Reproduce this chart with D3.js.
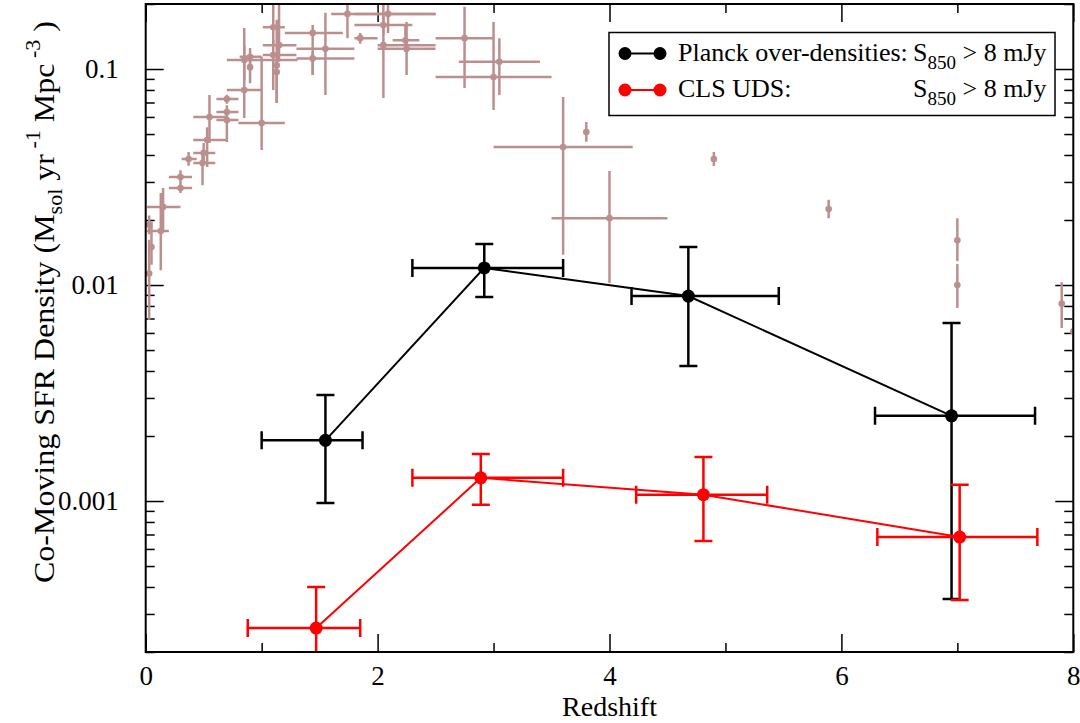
<!DOCTYPE html>
<html>
<head>
<meta charset="utf-8">
<script src="https://cdn.jsdelivr.net/npm/d3@7"></script>
<style>
  body { margin: 0; background: #fff; }
  svg, svg text { font-family: "Liberation Serif", "Times New Roman", serif; }
  .axis path { display: none; }
  .axis line { stroke: #000; stroke-width: 1.5; }
  .axis text { font-size: 27px; fill: #000; font-family: "Liberation Serif", serif; }
</style>
</head>
<body>
<svg id="chart"></svg>
<script>
"use strict";
// rows: [z, zLo, zHi, sfrd, sfrdLo, sfrdHi]
const planck = [
  [1.55, 1.00, 1.87, 0.00191, 0.00098, 0.0031],
  [2.92, 2.30, 3.60, 0.0120, 0.0088, 0.0155],
  [4.68, 4.19, 5.46, 0.00889, 0.00422, 0.0150],
  [6.95, 6.29, 7.67, 0.00248, 0.000352, 0.00667]
];
const clsUds = [
  [1.47, 0.88, 1.85, 0.000258, 0.00012, 0.00040],
  [2.89, 2.30, 3.60, 0.00128, 0.00096, 0.00165],
  [4.81, 4.23, 5.36, 0.00107, 0.000653, 0.0016],
  [7.02, 6.31, 7.69, 0.000681, 0.000348, 0.00119]
];
// literature compilation (background points)
const compilation = [
  [0.03, 0.03, 0.03, 0.0190, 0.0172, 0.0210],
  [0.05, 0.05, 0.05, 0.0150, 0.0124, 0.0196],
  [0.03, 0.03, 0.03, 0.0113, 0.0069, 0.0162],
  [0.13, 0.01, 0.20, 0.0178, 0.0117, 0.0267],
  [0.15, 0.01, 0.30, 0.0230, 0.0180, 0.0281],
  [0.30, 0.20, 0.40, 0.0281, 0.0267, 0.0297],
  [0.30, 0.20, 0.40, 0.0316, 0.0297, 0.0340],
  [0.37, 0.31, 0.44, 0.0383, 0.0357, 0.0413],
  [0.49, 0.41, 0.60, 0.0367, 0.0290, 0.0421],
  [0.50, 0.41, 0.60, 0.0408, 0.0360, 0.0454],
  [0.53, 0.41, 0.70, 0.0469, 0.0352, 0.0538],
  [0.55, 0.41, 0.70, 0.0600, 0.0454, 0.0758],
  [0.70, 0.61, 0.80, 0.0581, 0.0459, 0.0646],
  [0.70, 0.61, 0.80, 0.0632, 0.0590, 0.0680],
  [0.70, 0.61, 0.80, 0.0726, 0.0690, 0.0760],
  [0.85, 0.70, 1.00, 0.0800, 0.0593, 0.155],
  [0.85, 0.70, 1.31, 0.110, 0.089, 0.129],
  [0.90, 0.81, 1.00, 0.114, 0.098, 0.125],
  [0.90, 0.90, 0.90, 0.102, 0.086, 0.110],
  [1.00, 0.80, 1.20, 0.0562, 0.0422, 0.114],
  [1.10, 1.01, 1.20, 0.156, 0.129, 0.198],
  [1.10, 1.01, 1.30, 0.116, 0.080, 0.136],
  [1.13, 1.13, 1.13, 0.104, 0.0697, 0.169],
  [1.15, 1.01, 1.30, 0.129, 0.108, 0.20],
  [1.13, 1.13, 1.13, 0.0969, 0.0697, 0.110],
  [1.44, 1.20, 1.70, 0.147, 0.0938, 0.160],
  [1.44, 1.30, 1.80, 0.112, 0.0938, 0.120],
  [1.55, 1.30, 1.80, 0.124, 0.0758, 0.182],
  [1.74, 1.60, 2.50, 0.180, 0.139, 0.198],
  [1.85, 1.80, 2.00, 0.139, 0.131, 0.147],
  [2.05, 1.80, 2.30, 0.160, 0.145, 0.176],
  [2.09, 1.80, 2.50, 0.180, 0.147, 0.21],
  [2.05, 2.00, 2.50, 0.129, 0.0734, 0.21],
  [2.24, 2.13, 2.36, 0.136, 0.120, 0.160],
  [2.25, 2.00, 2.50, 0.124, 0.0938, 0.165],
  [2.75, 2.50, 3.00, 0.139, 0.0817, 0.194],
  [3.05, 2.70, 3.40, 0.108, 0.0758, 0.139],
  [3.00, 2.50, 3.50, 0.0918, 0.0646, 0.165],
  [3.60, 3.00, 4.20, 0.0435, 0.0138, 0.0742],
  [3.80, 3.80, 3.80, 0.0511, 0.0460, 0.0568],
  [4.00, 3.50, 4.50, 0.0204, 0.0102, 0.0337],
  [4.90, 4.90, 4.90, 0.0383, 0.0356, 0.0413],
  [5.89, 5.89, 5.89, 0.0225, 0.0204, 0.0248],
  [7.00, 7.00, 7.00, 0.0161, 0.0129, 0.0204],
  [7.00, 7.00, 7.00, 0.0100, 0.00783, 0.0125],
  [7.90, 7.90, 7.90, 0.0082, 0.00632, 0.0103],
  [8.00, 8.00, 8.00, 0.0061, 0.0045, 0.00703]
];
const xMajor = [0, 2, 4, 6, 8];
const xMinor = [1, 3, 5, 7];
const yMajor = [0.001, 0.01, 0.1];
const yMinor = [0.0002, 0.0003, 0.0004, 0.0005, 0.0006, 0.0007, 0.0008, 0.0009,
  0.002, 0.003, 0.004, 0.005, 0.006, 0.007, 0.008, 0.009,
  0.02, 0.03, 0.04, 0.05, 0.06, 0.07, 0.08, 0.09, 0.2];
const legendNames = ["Planck over-densities:", "CLS UDS:"];

const W = 1080, H = 723;
const serif = "'Liberation Serif', 'Times New Roman', serif";
const margin = {top: 4, right: 6.7, bottom: 71, left: 145.7},
    width  = W - margin.left - margin.right,
    height = H - margin.top - margin.bottom;

const svg = d3.select("#chart").attr("width", W).attr("height", H)
    .style("font-family", serif)
  .append("g")
    .attr("transform", "translate(" + margin.left + "," + margin.top + ")");

const x = d3.scaleLinear().domain([0, 8]).range([0, width]);
const y = d3.scaleLog().domain([0.0002, 0.2]).range([height, 0]);

svg.append("clipPath").attr("id", "clip")
  .append("rect").attr("width", width).attr("height", height);

// ticks on all four sides, pointing inward
function ticks(axisFn, scale, vals, size, labels, tr, pad) {
  const g = svg.append("g").attr("class", "axis");
  if (tr) g.attr("transform", tr);
  g.call(axisFn(scale).tickValues(vals).tickSize(-size).tickPadding(size + pad)
    .tickFormat(labels ? (d => labels(d)) : ""));
  g.attr("font-family", null).attr("font-size", null);
  g.selectAll("text").style("font-family", serif).style("font-size", "27px");
  return g;
}
ticks(d3.axisBottom, x, xMajor, 18, d => d, `translate(0,${height})`, 0)
  .selectAll("text").attr("dy", null).attr("y", 33);
ticks(d3.axisBottom, x, xMinor, 9, null, `translate(0,${height})`, 0);
ticks(d3.axisTop, x, xMajor, 18, null, null, 0);
ticks(d3.axisTop, x, xMinor, 9, null, null, 0);
ticks(d3.axisLeft, y, yMajor, 18, d => d3.format("")(d), null, 9);
ticks(d3.axisLeft, y, yMinor, 9, null, null, 0);
ticks(d3.axisRight, y, yMajor, 18, null, `translate(${width},0)`, 0);
ticks(d3.axisRight, y, yMinor, 9, null, `translate(${width},0)`, 0);

const plot = svg.append("g").attr("clip-path", "url(#clip)");

function errorBars(data, color, sw, cap, r) {
  const g = plot.append("g").attr("stroke", color).attr("stroke-width", sw)
    .attr("fill", "none");
  const pts = g.selectAll("g").data(data).enter().append("g");
  pts.filter(d => d[1] !== d[2]).append("line")
    .attr("x1", d => x(d[1])).attr("x2", d => x(d[2]))
    .attr("y1", d => y(d[3])).attr("y2", d => y(d[3]));
  pts.append("line")
    .attr("x1", d => x(d[0])).attr("x2", d => x(d[0]))
    .attr("y1", d => y(d[4])).attr("y2", d => y(d[5]));
  if (cap > 0) {
    pts.append("path").attr("d", d =>
      `M${x(d[1])},${y(d[3]) - cap}V${y(d[3]) + cap}` +
      `M${x(d[2])},${y(d[3]) - cap}V${y(d[3]) + cap}` +
      `M${x(d[0]) - cap},${y(d[4])}H${x(d[0]) + cap}` +
      `M${x(d[0]) - cap},${y(d[5])}H${x(d[0]) + cap}`);
  }
  plot.append("g").selectAll("circle").data(data).enter().append("circle")
    .attr("cx", d => x(d[0])).attr("cy", d => y(d[3])).attr("r", r)
    .attr("fill", color);
}

function series(data, color) {
  plot.append("path").datum(data)
    .attr("fill", "none").attr("stroke", color).attr("stroke-width", 2)
    .attr("d", d3.line().x(d => x(d[0])).y(d => y(d[3])));
  errorBars(data, color, 2.5, 9, 6.5);
}

errorBars(compilation, "#bc8f8f", 2.5, 0, 3.3);
series(planck, "#000");
series(clsUds, "#ff0000");

// frame
svg.append("rect").attr("width", width).attr("height", height)
  .attr("fill", "none").attr("stroke", "#000").attr("stroke-width", 2);

// legend
const lg = svg.append("g").attr("transform", `translate(${609 - margin.left},${32.5 - margin.top})`);
lg.append("rect").attr("width", 446).attr("height", 83)
  .attr("fill", "#fff").attr("stroke", "#000").attr("stroke-width", 1.5);
[["#000", 21], ["#ff0000", 57.5]].forEach(([c, ly], i) => {
  lg.append("line").attr("x1", 16).attr("x2", 51).attr("y1", ly).attr("y2", ly)
    .attr("stroke", c).attr("stroke-width", 2);
  lg.selectAll(null).data([16, 51]).enter().append("circle")
    .attr("cx", d => d).attr("cy", ly).attr("r", 6.5).attr("fill", c);
  lg.append("text").attr("x", 69).attr("y", ly + 7).style("font-size", "26px")
    .style("font-family", serif).text(legendNames[i]);
  const t = lg.append("text").attr("x", 304).attr("y", ly + 7)
    .style("font-size", "26px").style("font-family", serif);
  t.append("tspan").text("S");
  t.append("tspan").attr("dy", 8).style("font-size", "19px").text("850");
  t.append("tspan").attr("dy", -8).text(" > 8 mJy");
});

// axis titles
svg.append("text")
  .attr("x", width / 2).attr("y", H - margin.top - 7)
  .attr("text-anchor", "middle").style("font-size", "28px")
  .style("font-family", serif).text("Redshift");

const yl = svg.append("text")
  .attr("transform", `translate(${54 - margin.left},${302 - margin.top}) rotate(-90)`)
  .attr("text-anchor", "middle").style("font-size", "29px")
  .style("font-family", serif)
  .attr("textLength", 562).attr("lengthAdjust", "spacingAndGlyphs");
yl.append("tspan").text("Co-Moving SFR Density (M");
yl.append("tspan").attr("dy", 8).style("font-size", "20px").text("sol");
yl.append("tspan").attr("dy", -8).text(" yr");
yl.append("tspan").attr("dy", -14).style("font-size", "20px").text(" -1");
yl.append("tspan").attr("dy", 14).text(" Mpc");
yl.append("tspan").attr("dy", -14).style("font-size", "20px").text(" -3");
yl.append("tspan").attr("dy", 14).text(" )");
</script>
</body>
</html>
